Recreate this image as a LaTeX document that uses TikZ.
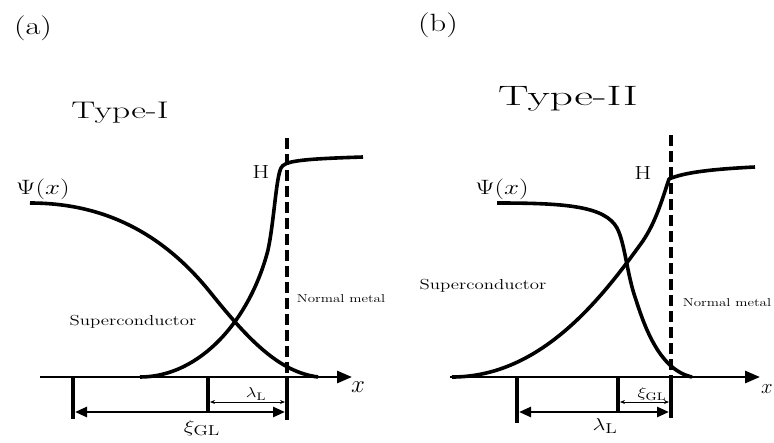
\documentclass[tikz,border=0pt]{standalone}
\usepackage{amsmath}
\usetikzlibrary{arrows.meta}

\begin{document}
\begin{tikzpicture}[x=1pt, y=-1pt,
    curve/.style={line width=3.6pt, line join=round},
    axisline/.style={line width=2.8pt, -{Triangle[length=15pt, width=12pt]}},
    wall/.style={line width=4pt, dash pattern=on 11pt off 5pt},
    tickline/.style={line width=3.6pt},
    longspan/.style={line width=2.6pt, {Triangle[length=12pt, width=10pt]}-{Triangle[length=12pt, width=10pt]}},
    shortspan/.style={line width=0.8pt, {Stealth[length=5pt, width=4pt]}-{Stealth[length=5pt, width=4pt]}},
    lbl/.style={inner sep=0pt, xscale=1.3},
    panel/.style={lbl, font=\fontsize{25}{29}\selectfont},
    kind/.style={lbl, xscale=1.154, font=\fontsize{24}{28}\selectfont},
    psi/.style={lbl, font=\fontsize{22}{26}\selectfont},
    field/.style={lbl, font=\fontsize{19}{22}\selectfont},
    region/.style={lbl, font=\fontsize{14.5}{17}\selectfont},
    metal/.style={lbl, font=\fontsize{11.5}{13}\selectfont},
    axislbl/.style={inner sep=0pt, font=\fontsize{23}{27}\selectfont},
    bigsym/.style={lbl, font=\fontsize{19}{22}\selectfont},
    smallsym/.style={lbl, font=\fontsize{15}{18}\selectfont}
    ]
    \useasboundingbox (0,0) rectangle (774,442);

    % (a) Type-I
    \node[panel] (pa) at (33,28) {(a)};
    \node[kind] (ka) at (120,113) {Type-I};
    \node[psi] (psia) at (43,189) {$\Psi(x)$};
    \node[field] (ha) at (261,172) {H};
    \node[region] (sca) at (133,322) {Superconductor};
    \node[metal] (nma) at (341,299) {Normal metal};

    \coordinate (aO) at (40,377);
    \coordinate (aX) at (352,377);
    \coordinate (aWtop) at (287,138);
    \coordinate (aWbot) at (287,377);
    \draw[wall] (aWtop) -- (aWbot);
    \draw[axisline] (aO) -- (aX);
    \node[axislbl] (xa) at (358,387) {$x$};

    \draw[curve] (30,203) .. controls (100,203) and (160,230) .. (210,292)
        .. controls (250,342) and (280,372) .. (318,377);
    \draw[curve] (140,377) .. controls (200,377) and (250,320) .. (268,250)
        .. controls (274,222) and (276,178) .. (281,168)
        .. controls (284,161) and (300,159) .. (363,157);

    \coordinate (aT1) at (73,376);   \coordinate (aB1) at (73,419);
    \coordinate (aT2) at (208,376);  \coordinate (aB2) at (208,412);
    \coordinate (aT3) at (287,376);  \coordinate (aB3) at (287,420);
    \foreach \i in {1,2,3}
        \draw[tickline] (aT\i) -- (aB\i);
    \coordinate (aL) at (75,412);  \coordinate (aR) at (285,412);
    \coordinate (aM) at (210,402); \coordinate (aN) at (285,402);
    \draw[longspan] (aL) -- (aR);
    \draw[shortspan] (aM) -- (aN);
    \node[smallsym] (lama) at (256,394) {$\lambda_{\mathrm{L}}$};
    \node[bigsym] (xia) at (202,428) {$\xi_{\mathrm{GL}}$};

    % (b) Type-II
    \node[panel] (pb) at (438,25) {(b)};
    \node[kind, xscale=1.09, font=\fontsize{28}{32}\selectfont] (kb) at (568,99) {Type-II};
    \node[psi] (psib) at (502,189) {$\Psi(x)$};
    \node[field] (hb) at (643,173) {H};
    \node[region] (scb) at (483,286) {Superconductor};
    \node[metal] (nmb) at (727,303) {Normal metal};

    \coordinate (bO) at (450,377);
    \coordinate (bX) at (760,377);
    \coordinate (bWtop) at (671,135);
    \coordinate (bWbot) at (671,377);
    \draw[wall] (bWtop) -- (bWbot);
    \draw[axisline] (bO) -- (bX);
    \node[axislbl, font=\fontsize{20}{24}\selectfont] (xb) at (767,389) {$x$};

    \draw[curve] (497,203) .. controls (565,203) and (605,206) .. (617,228)
        .. controls (625,243) and (627,275) .. (636,300)
        .. controls (645,328) and (660,370) .. (692,377);
    \draw[curve] (452,377) .. controls (540,377) and (600,300) .. (640,245)
        .. controls (655,225) and (662,200) .. (669,179)
        .. controls (685,172) and (715,169) .. (755,167);

    \coordinate (bT1) at (517,376);  \coordinate (bB1) at (517,423);
    \coordinate (bT2) at (618,376);  \coordinate (bB2) at (618,412);
    \coordinate (bT3) at (671,376);  \coordinate (bB3) at (671,418);
    \foreach \i in {1,2,3}
        \draw[tickline] (bT\i) -- (bB\i);
    \coordinate (bL) at (519,412);  \coordinate (bR) at (669,412);
    \coordinate (bM) at (620,402);  \coordinate (bN) at (669,402);
    \draw[longspan] (bL) -- (bR);
    \draw[shortspan] (bM) -- (bN);
    \node[smallsym] (xib) at (652,394) {$\xi_{\mathrm{GL}}$};
    \node[bigsym] (lamb) at (605,426) {$\lambda_{\mathrm{L}}$};
\end{tikzpicture}
\end{document}
